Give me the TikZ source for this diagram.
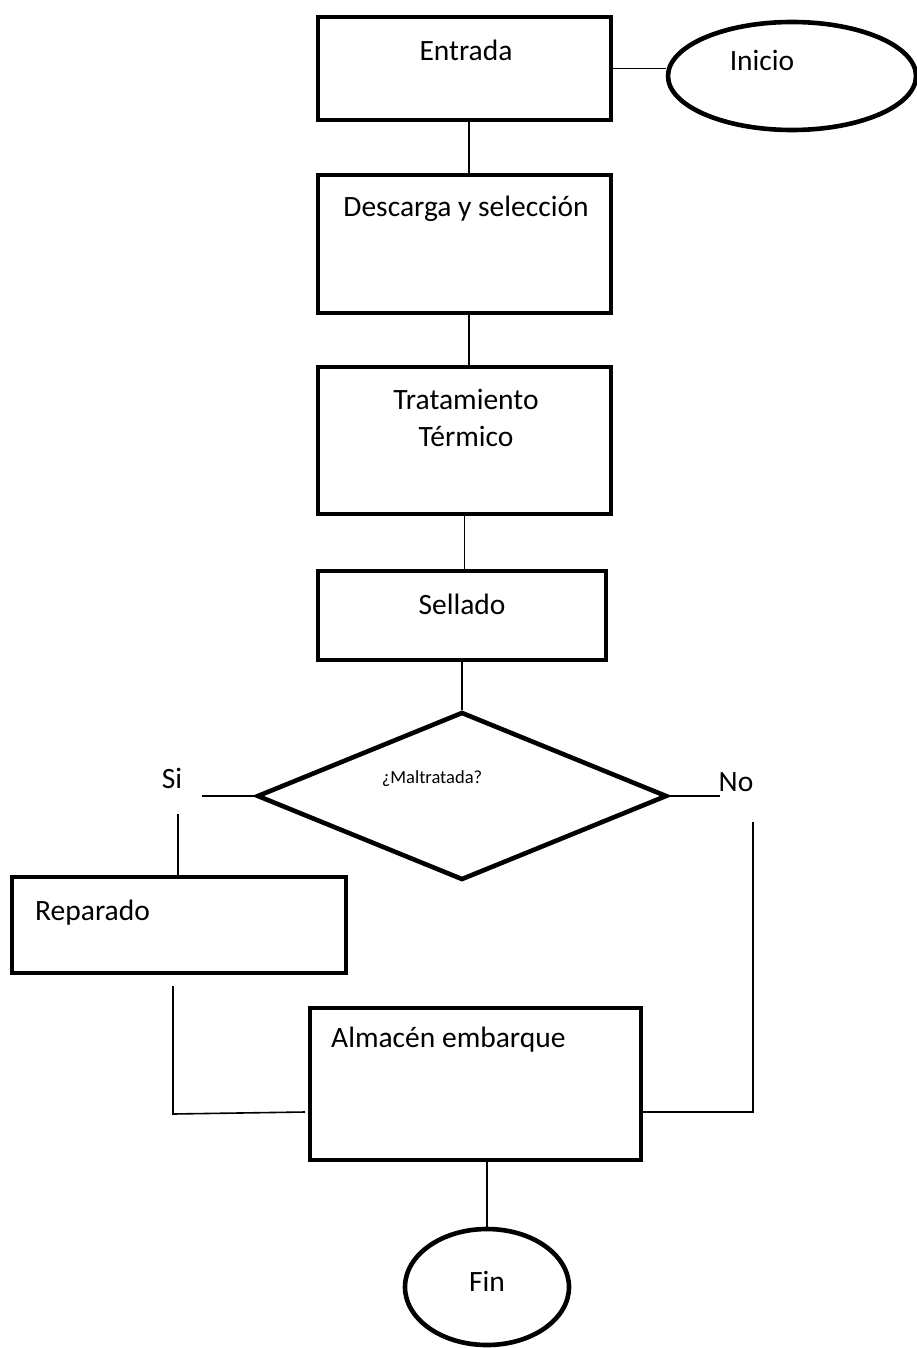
\documentclass[tikz,border=0pt]{standalone}
\usepackage{fontspec}
\setmainfont{Carlito}
\usetikzlibrary{shapes.geometric}
\begin{document}
\begin{tikzpicture}[x=1pt,y=-1pt,
  box/.style={draw, line width=4.6pt, rectangle, inner sep=0pt},
  oval/.style={draw, line width=4.6pt, ellipse, inner sep=0pt},
  dec/.style={draw, line width=4.6pt, diamond, inner sep=0pt},
  conn/.style={line width=1.6pt},
  lbl/.style={font=\fontsize{29.5}{37}\selectfont, inner sep=0pt},
  small/.style={font=\fontsize{18.5}{22}\selectfont, inner sep=0pt}]
\useasboundingbox (0,0) rectangle (917,1348);
% shapes
\node[box, minimum width=293pt, minimum height=103pt] (entrada) at (464.5,68.5) {};
\node[oval, minimum width=248pt, minimum height=108pt] (inicio) at (792,76) {};
\node[box, minimum width=293pt, minimum height=138pt] (descarga) at (464.5,244) {};
\node[box, minimum width=293pt, minimum height=147pt] (tratamiento) at (464.5,440.5) {};
\node[box, minimum width=288pt, minimum height=89pt] (sellado) at (462,615.5) {};
\node[dec, minimum width=410pt, minimum height=168pt, aspect=2.44] (dia) at (462,796) {};
\node[box, minimum width=334pt, minimum height=96pt] (reparado) at (179,925) {};
\node[box, minimum width=331pt, minimum height=152pt] (almacen) at (475.5,1084) {};
\node[oval, minimum width=164pt, minimum height=116pt] (fin) at (487,1287) {};
% texts
\node[lbl] (tEntrada) at (466,50) {Entrada};
\node[lbl] (tInicio) at (762,60) {Inicio};
\node[lbl] (tDescarga) at (466,209) {Descarga y selección};
\node[lbl, align=center] (tTrat) at (466,418) {Tratamiento\\Térmico};
\node[lbl] (tSellado) at (462,604) {Sellado};
\node[small] (tMal) at (432,779) {¿Maltratada?};
\node[lbl] (tSi) at (172,778) {Si};
\node[lbl] (tNo) at (736,782) {No};
\node[lbl, anchor=west] (tRep) at (35,913) {Reparado};
\node[lbl, anchor=west] (tAlm) at (331,1040) {Almacén embarque};
\node[lbl] (tFin) at (487,1281) {Fin};
% free-end coordinates
\coordinate (siend) at (202,796);
\coordinate (sitop) at (178,814);
\coordinate (noend) at (720,796);
\coordinate (notop) at (753,822);
\coordinate (nocorner) at (753,1112);
\coordinate (reptop) at (173,986);
\coordinate (repcorner) at (173,1114);
\coordinate (almL) at (305,1112);
% connectors
\draw[conn] (entrada.east) -- (entrada.east -| inicio.west);
\draw[conn] ([xshift=4.5pt]entrada.south) -- ([xshift=4.5pt]descarga.north);
\draw[conn] ([xshift=4.5pt]descarga.south) -- ([xshift=4.5pt]tratamiento.north);
\draw[conn] (tratamiento.south) -- (tratamiento.south |- sellado.north);
\draw[conn] (sellado.south) -- (dia.north);
\draw[conn] (dia.west) -- (siend);
\draw[conn] (sitop) -- (sitop |- reparado.north);
\draw[conn] (dia.east) -- (noend);
\draw[conn] (reptop) -- (repcorner) -- (almL);
\draw[conn] (almacen.east |- nocorner) -- (nocorner) -- (notop);
\draw[conn] (fin.north |- almacen.south) -- (fin.north);
\end{tikzpicture}
\end{document}
